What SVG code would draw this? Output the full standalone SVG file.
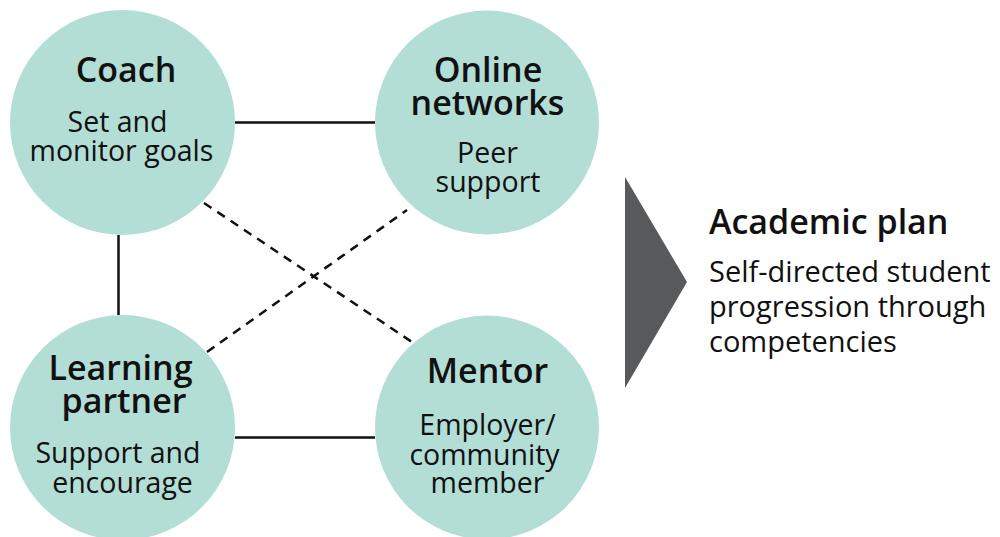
<svg xmlns="http://www.w3.org/2000/svg" width="1000" height="537" viewBox="0 0 1000 537">
<style>
.c{fill:#b2ded6}
.t{font-family:"Open Sans","Noto Sans",sans-serif;font-weight:600;font-size:34px;fill:#111;text-anchor:middle}
.s{font-family:"Open Sans","Noto Sans",sans-serif;font-weight:400;font-size:28.5px;fill:#111;text-anchor:middle}
.r{text-anchor:start;font-size:29px}
.l{stroke:#111;stroke-width:2.5;fill:none}
.d{stroke:#111;stroke-width:2.5;fill:none;stroke-dasharray:9 7}
</style>
<rect width="1000" height="537" fill="#fff"/>
<g id="connectors">
<line class="l" x1="235" y1="122.5" x2="375" y2="122.5"/>
<line class="l" x1="118.5" y1="235" x2="118.5" y2="315"/>
<line class="l" x1="235" y1="437.5" x2="375" y2="437.5"/>
<line class="d" x1="204" y1="203" x2="412" y2="342"/>
<line class="d" x1="207" y1="352" x2="407" y2="210"/>
</g>
<g id="coach">
<circle class="c" cx="122.5" cy="122.5" r="112.5"/>
<text class="t" x="126" y="82">Coach</text>
<text class="s" x="117.5" y="132">Set and</text>
<text class="s" x="121.5" y="161">monitor goals</text>
</g>
<g id="online">
<circle class="c" cx="487" cy="122.5" r="112"/>
<text class="t" x="488" y="82">Online</text>
<text class="t" x="487.5" y="115">networks</text>
<text class="s" x="487.5" y="163">Peer</text>
<text class="s" x="488" y="192">support</text>
</g>
<g id="learning">
<circle class="c" cx="122.5" cy="427.5" r="112.5"/>
<text class="t" x="120.5" y="380">Learning</text>
<text class="t" x="124" y="413">partner</text>
<text class="s" x="118" y="463">Support and</text>
<text class="s" x="122.5" y="493">encourage</text>
</g>
<g id="mentor">
<circle class="c" cx="487" cy="427.5" r="112"/>
<text class="t" x="487.5" y="383">Mentor</text>
<text class="s" x="487.5" y="435">Employer/</text>
<text class="s" x="484.5" y="465">community</text>
<text class="s" x="487.5" y="493">member</text>
</g>
<g id="academic">
<polygon points="625,177 687,282 625,388" fill="#58595b"/>
<text class="t" x="709" y="234" style="text-anchor:start">Academic plan</text>
<text class="s r" x="709" y="282">Self-directed student</text>
<text class="s r" x="709" y="317">progression through</text>
<text class="s r" x="709" y="352">competencies</text>
</g>
</svg>
